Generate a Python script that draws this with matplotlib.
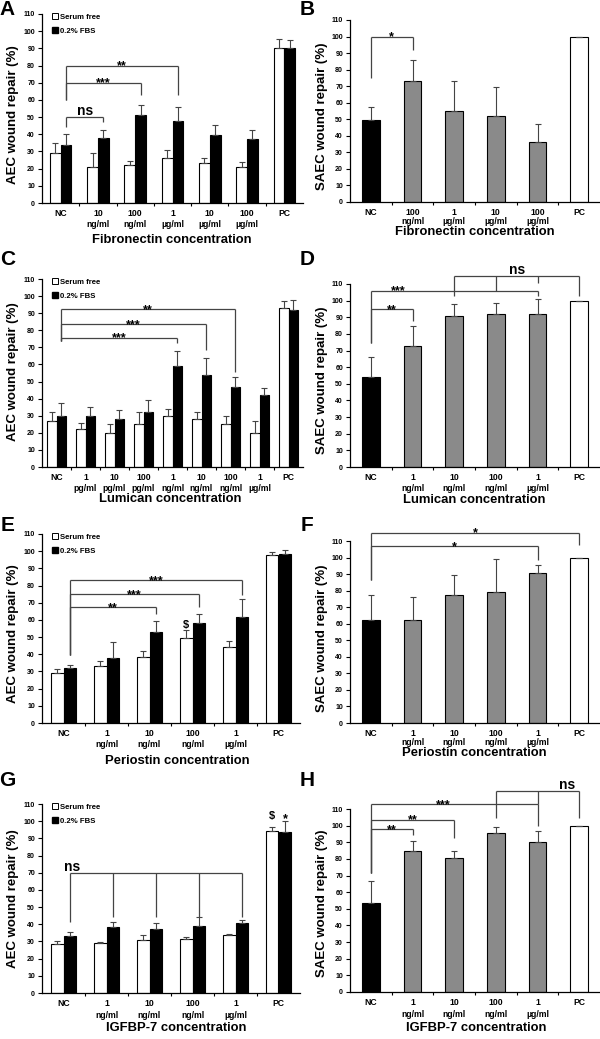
import matplotlib
matplotlib.use('Agg')
import matplotlib.pyplot as plt
from matplotlib.patches import Patch
import numpy as np

plt.rcParams['font.family'] = ['Liberation Sans', 'DejaVu Sans']
plt.rcParams['font.weight'] = 'bold'

# ---------------- data ----------------
A_labels = ['NC', '10\nng/ml', '100\nng/ml', '1\nµg/ml', '10\nµg/ml', '100\nµg/ml', 'PC']
A_sf = [29, 21, 22, 26, 23, 21, 90.5]
A_sf_err = [5.8, 8.3, 2.2, 4.6, 3, 3, 5.2]
A_fbs = [34, 38, 51, 48, 39.3, 37, 90.5]
A_fbs_err = [6, 4.7, 6.2, 7.8, 6, 5.5, 4.6]

B_labels = ['NC', '100\nng/ml', '1\nµg/ml', '10\nµg/ml', '100\nµg/ml', 'PC']
B_vals = [49.5, 73, 55, 52, 36, 100]
B_err = [8, 13, 18, 17.5, 11, 0]

C_labels = ['NC', '1\npg/ml', '10\npg/ml', '100\npg/ml', '1\nng/ml', '10\nng/ml',
            '100\nng/ml', '1\nµg/ml', 'PC']
C_sf = [27, 22, 20, 25, 30, 28, 25, 20, 93]
C_sf_err = [5, 4, 5, 7, 4, 4, 5, 7, 4]
C_fbs = [30, 30, 28, 32, 59, 54, 47, 42, 92]
C_fbs_err = [7.5, 5, 5.5, 7, 9, 9.5, 5.5, 4, 6]

D_labels = ['NC', '1\nng/ml', '10\nng/ml', '100\nng/ml', '1\nµg/ml', 'PC']
D_vals = [54, 73, 90.5, 92, 92, 100]
D_err = [12, 11.5, 7.5, 6.5, 9, 0]

E_labels = ['NC', '1\nng/ml', '10\nng/ml', '100\nng/ml', '1\nµg/ml', 'PC']
E_sf = [29, 33, 38.5, 49.5, 44.5, 98]
E_sf_err = [2.5, 3, 3.5, 4.5, 3.5, 1.5]
E_fbs = [32, 38, 53, 58, 61.5, 98.5]
E_fbs_err = [2, 9, 6.5, 5.5, 10.5, 2]

F_labels = ['NC', '1\nng/ml', '10\nng/ml', '100\nng/ml', '1\nµg/ml', 'PC']
F_vals = [62, 62, 77.5, 79, 90.5, 100]
F_err = [15.5, 14, 12, 20, 5, 0]

G_labels = ['NC', '1\nng/ml', '10\nng/ml', '100\nng/ml', '1\nµg/ml', 'PC']
G_sf = [28.5, 29, 31, 31.5, 33.5, 94]
G_sf_err = [2, 0.5, 2.5, 1, 0.7, 2.5]
G_fbs = [33, 38.5, 37, 39, 40.5, 93.5]
G_fbs_err = [2.5, 3, 4, 5, 2.2, 6.5]

H_labels = ['NC', '1\nng/ml', '10\nng/ml', '100\nng/ml', '1\nµg/ml', 'PC']
H_vals = [53.5, 85, 80.5, 95.5, 90, 100]
H_err = [13.5, 6, 4.5, 3.5, 6.5, 0]

single_colors = ['black', '#8a8a8a', '#8a8a8a', '#8a8a8a', '#8a8a8a', 'white']

# significance brackets: (legs [(group, bottom)], level, label, label_x or None)
A_br = [([(0, 44), (1, 47)], 50, 'ns', None),
        ([(0, 60), (2, 63)], 70, '***', None),
        ([(0, 60), (3, 63)], 80, '**', None)]
B_br = [([(0, 75), (1, 92)], 100, '*', None)]
C_br = [([(0, 74), (6, 55.8)], 92.4, '**', None),
        ([(0, 74), (5, 68.5)], 83.6, '***', None),
        ([(0, 74), (4, 72.4)], 75.7, '***', None)]
D_br = [([(0, 74.4), (1, 87.5)], 95, '**', None),
        ([(0, 74.4), (4, 102.6)], 106, '***', 0.66),
        ([(2, 102.6), (3, 106), (4, 110.6), (5, 102.6)], 114.6, 'ns', None)]
E_br = [([(0, 39.5), (4, 74.4)], 83.2, '***', None),
        ([(0, 39.5), (3, 67.3)], 75, '***', None),
        ([(0, 39.5), (2, 63.2)], 67.3, '**', None)]
F_br = [([(0, 86.2), (5, 107.4)], 115, '*', None),
        ([(0, 86.2), (4, 98.3)], 107, '*', None)]
G_br = [([(0, 41.6), (1, 44.5), (2, 44.5), (3, 44.5), (4, 44.5)], 69.7, 'ns', 0.19)]
H_br = [([(0, 71.4), (1, 94.5)], 98.1, '**', None),
        ([(0, 71.4), (2, 92.5)], 103.6, '**', None),
        ([(0, 71.4), (4, 99.5)], 113, '***', 1.75),
        ([(3, 104.6), (4, 113), (5, 104.6)], 120.6, 'ns', 4.7)]

# ---------------- figure ----------------
W, H = 600, 1039
fig = plt.figure(figsize=(W / 100, H / 100), dpi=100)
BR = '#444444'
EK = dict(ecolor='#444444', elinewidth=0.8, capsize=2, capthick=0.8)
TICK_FS = 6.2


def make_ax(left, right, y0, y110, n):
    ax = fig.add_axes([left / W, 1 - y0 / H, (right - left) / W, (y0 - y110) / H])
    ax.set_xlim(-0.5, n - 0.5)
    ax.set_ylim(0, 110)
    ax.set_yticks(np.arange(0, 111, 10))
    ax.spines['top'].set_visible(False)
    ax.spines['right'].set_visible(False)
    for s in ('left', 'bottom'):
        ax.spines[s].set_linewidth(0.9)
    ax.tick_params(axis='y', direction='out', length=3, width=0.8, labelsize=5, pad=2)
    ax.set_xticks(np.arange(n))
    ax.set_xticks(np.arange(n - 1) + 0.5, minor=True)
    ax.tick_params(axis='x', which='major', length=0, pad=4, labelsize=TICK_FS)
    ax.tick_params(axis='x', which='minor', length=2.5, width=0.8, direction='out')
    return ax


def pair_panel(ax, labels, sf, sf_err, fbs, fbs_err, bw, ls):
    n = len(labels)
    x = np.arange(n)
    z = np.zeros(n)
    ax.bar(x - bw / 2, sf, bw, color='white', edgecolor='black', linewidth=0.8,
           yerr=[z, sf_err], error_kw=EK, zorder=2)
    ax.bar(x + bw / 2, fbs, bw, color='black', edgecolor='black', linewidth=0.8,
           yerr=[z, fbs_err], error_kw=EK, zorder=2)
    ax.set_xticklabels(labels, linespacing=ls)
    ax.legend([Patch(facecolor='white', edgecolor='black', linewidth=0.7),
               Patch(facecolor='black', edgecolor='black')],
              ['Serum free', '0.2% FBS'], loc='upper left',
              bbox_to_anchor=(0.04, 1.003), frameon=False, fontsize=5.6,
              handlelength=0.7, handleheight=0.7, handletextpad=0.3,
              labelspacing=0.85, borderaxespad=0, borderpad=0)


def single_panel(ax, labels, vals, err, bw, ls):
    n = len(labels)
    x = np.arange(n)
    ax.bar(x, vals, bw, color=single_colors, edgecolor='black', linewidth=0.8,
           yerr=[np.zeros(n), err], error_kw=EK, zorder=2)
    ax.set_xticklabels(labels, linespacing=ls)


def brackets(ax, specs, off):
    for legs, level, label, lx in specs:
        xs = [g + off for g, _ in legs]
        ax.plot([min(xs), max(xs)], [level, level], color=BR, lw=0.9, clip_on=False,
                solid_capstyle='butt')
        for (g, b), xx in zip(legs, xs):
            ax.plot([xx, xx], [b, level], color=BR, lw=0.9, clip_on=False,
                    solid_capstyle='butt')
        if lx is None:
            lx = (min(xs) + max(xs)) / 2
        ns = label == 'ns'
        ax.annotate(label, (lx, level), xytext=(0, 1.5 if ns else -2.8),
                    textcoords='offset points', ha='center', va='baseline',
                    fontsize=10 if ns else 9, annotation_clip=False)


def fig_text(x, y, s, **kw):
    fig.text(x / W, 1 - y / H, s, ha='center', va='center', **kw)


# A
ax = make_ax(42, 303, 203, 14, len(A_labels))
pair_panel(ax, A_labels, A_sf, A_sf_err, A_fbs, A_fbs_err, 0.29, 1.3)
brackets(ax, A_br, 0.145)
# B
ax = make_ax(350, 600, 202, 20, len(B_labels))
single_panel(ax, B_labels, B_vals, B_err, 0.42, 1.05)
brackets(ax, B_br, 0)
# C
ax = make_ax(42, 303, 467, 279, len(C_labels))
pair_panel(ax, C_labels, C_sf, C_sf_err, C_fbs, C_fbs_err, 0.32, 1.3)
brackets(ax, C_br, 0.16)
# D
ax = make_ax(350, 600, 467, 284, len(D_labels))
single_panel(ax, D_labels, D_vals, D_err, 0.42, 1.3)
brackets(ax, D_br, 0)
# E
ax = make_ax(42, 300, 723, 534, len(E_labels))
pair_panel(ax, E_labels, E_sf, E_sf_err, E_fbs, E_fbs_err, 0.3, 1.3)
brackets(ax, E_br, 0.15)
ax.annotate('$', (3 - 0.15, E_sf[3] + E_sf_err[3]), xytext=(0, 1.5),
            textcoords='offset points', ha='center', va='baseline', fontsize=8)
# F
ax = make_ax(350, 600, 723, 541, len(F_labels))
single_panel(ax, F_labels, F_vals, F_err, 0.42, 1.08)
brackets(ax, F_br, 0)
# G
ax = make_ax(42, 300, 993, 804, len(G_labels))
pair_panel(ax, G_labels, G_sf, G_sf_err, G_fbs, G_fbs_err, 0.3, 1.45)
brackets(ax, G_br, 0.15)
ax.annotate('$', (5 - 0.15, 101.5), xytext=(0, 0), textcoords='offset points',
            ha='center', va='baseline', fontsize=8, annotation_clip=False)
ax.annotate('*', (5 + 0.15, 101.5), xytext=(0, -2.8), textcoords='offset points',
            ha='center', va='baseline', fontsize=9, annotation_clip=False)
# H
ax = make_ax(350, 600, 992, 809, len(H_labels))
single_panel(ax, H_labels, H_vals, H_err, 0.42, 1.45)
brackets(ax, H_br, 0)

# axis titles
YL = 9.5
for (x, y) in [(13.5, 115), (13.5, 372), (13.5, 634), (13.5, 899)]:
    fig_text(x, y, 'AEC wound repair (%)', rotation=90, fontsize=YL)
for (x, y) in [(322.5, 116), (322.5, 380), (322.5, 638), (322.5, 903)]:
    fig_text(x, y, 'SAEC wound repair (%)', rotation=90, fontsize=YL)

XL = 9.4
fig_text(172, 240, 'Fibronectin concentration', fontsize=XL)
fig_text(475, 232, 'Fibronectin concentration', fontsize=XL)
fig_text(170, 499, 'Lumican concentration', fontsize=XL)
fig_text(474, 500, 'Lumican concentration', fontsize=XL)
fig_text(177, 761, 'Periostin concentration', fontsize=XL)
fig_text(474, 753, 'Periostin concentration', fontsize=XL)
fig_text(176, 1028, 'IGFBP-7 concentration', fontsize=XL)
fig_text(476, 1028, 'IGFBP-7 concentration', fontsize=XL)

for (x, y, s) in [(7.5, 9.5, 'A'), (307, 9.5, 'B'), (7.5, 259.5, 'C'), (307, 259.5, 'D'),
                  (7.5, 525.5, 'E'), (307, 525.5, 'F'), (7.5, 781, 'G'), (307, 781, 'H')]:
    fig_text(x, y, s, fontsize=15)

fig.savefig('out.png', dpi=100)
